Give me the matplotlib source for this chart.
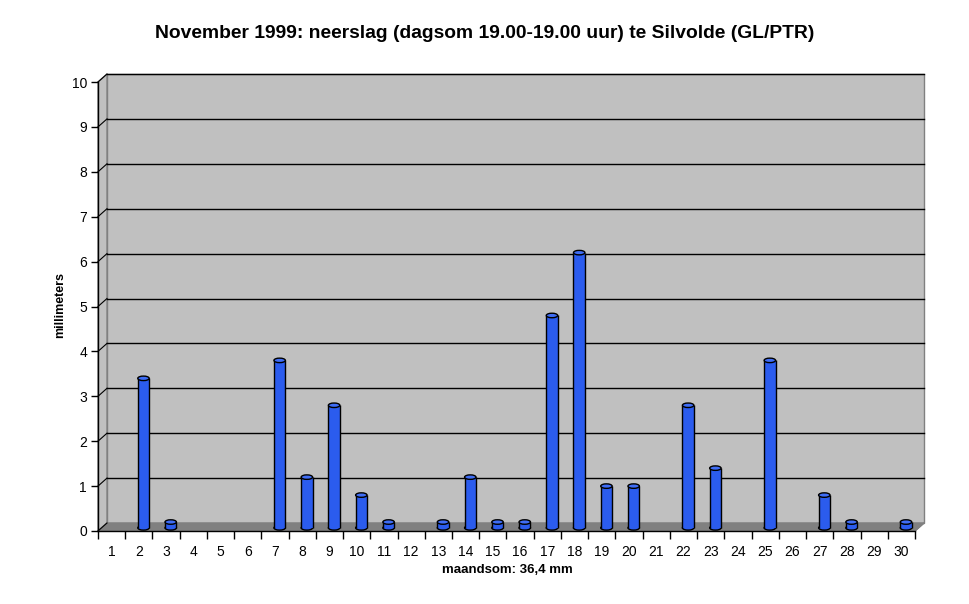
import matplotlib
matplotlib.use('Agg')
import matplotlib.pyplot as plt
import matplotlib.transforms as mtransforms
from matplotlib.patches import Rectangle, Polygon, Ellipse
import numpy as np

plt.rcParams['font.family'] = ['Liberation Sans', 'DejaVu Sans']

days = list(range(1, 31))
rain = [0, 3.4, 0.2, 0, 0, 0, 3.8, 1.2, 2.8, 0.8,
        0.2, 0, 0.2, 1.2, 0.2, 0.2, 4.8, 6.2, 1.0, 1.0,
        0, 2.8, 1.4, 0, 3.8, 0, 0.8, 0.2, 0, 0.2]
yticks = list(range(0, 11))
title = 'November 1999: neerslag (dagsom 19.00-19.00 uur) te Silvolde (GL/PTR)'
xlabel = 'maandsom: 36,4 mm'
ylabel = 'millimeters'

W, H, DPI = 970, 604, 100
fig = plt.figure(figsize=(W / DPI, H / DPI), dpi=DPI)
fig.patch.set_facecolor('white')

# front axis box in pixels
left, right, top, bottom = 98, 915, 82, 531
ax = fig.add_axes([left / W, 1 - bottom / H, (right - left) / W, (bottom - top) / H])
ax.set_xlim(0, 30)
ax.set_ylim(0, 10)
ax.patch.set_visible(False)

# depth offset for the back wall (pixels)
dx, dy = 9, 8
t_back = ax.transData + mtransforms.ScaledTranslation(dx / DPI, dy / DPI, fig.dpi_scale_trans)

# back wall
ax.add_patch(Rectangle((0, 0), 30, 10, transform=t_back, fc='#C0C0C0',
                       ec='#808080', lw=1, zorder=0, clip_on=False))
for v in yticks[1:]:
    ax.plot([0, 30], [v, v], transform=t_back, color='black', lw=1, zorder=1, clip_on=False)

# side wall and floor (display coords)
def pts(trans, xy):
    return [trans.transform(p) for p in xy]

fig.canvas.draw()
side = pts(ax.transData, [(0, 0), (0, 10)]) + pts(t_back, [(0, 10), (0, 0)])
ax.add_patch(Polygon(side, closed=True, transform=None, fc='#C0C0C0', ec='#808080',
                     lw=1, zorder=0, clip_on=False))
floor = pts(ax.transData, [(0, 0), (30, 0)]) + pts(t_back, [(30, 0), (0, 0)])
ax.add_patch(Polygon(floor, closed=True, transform=None, fc='#808080', ec='#808080',
                     lw=1, zorder=1, clip_on=False))
for v in yticks:
    a = ax.transData.transform((0, v))
    b = t_back.transform((0, v))
    ax.plot([a[0], b[0]], [a[1], b[1]], transform=None, color='black', lw=0.8,
            zorder=2, clip_on=False)
a = ax.transData.transform((30, 0))
b = t_back.transform((30, 0))
ax.plot([a[0], b[0]], [a[1], b[1]], transform=None, color='#808080', lw=1, zorder=2, clip_on=False)

# cylinders
bw = 0.42
shift = 0.17
base = 0.07
blue = '#2B5CEE'
cap_h = 0.1
for d, v in zip(days, rain):
    if v <= 0:
        continue
    xc = d - 0.5 + shift
    ax.add_patch(Ellipse((xc, base), bw, cap_h, fc=blue, ec='black', lw=1, zorder=3, clip_on=False))
    ax.bar(xc, v - base, width=bw, bottom=base, color=blue, lw=0, zorder=4, clip_on=False)
    ax.vlines([xc - bw / 2, xc + bw / 2], base, v, color='black', lw=1, zorder=5)
    ax.add_patch(Ellipse((xc, v), bw, cap_h, fc='#3F6DF5', ec='black', lw=1, zorder=6, clip_on=False))

# axes
for s in ['top', 'right']:
    ax.spines[s].set_visible(False)
for s in ['left', 'bottom']:
    ax.spines[s].set_color('black')
    ax.spines[s].set_linewidth(1)
    ax.spines[s].set_zorder(7)

ax.set_yticks(yticks)
ax.set_yticklabels([str(v) for v in yticks], fontsize=10)
ax.tick_params(axis='y', length=5, width=1, pad=3)
ax.set_xticks(np.arange(0, 31))
ax.set_xticklabels([])
ax.set_xticks(np.array(days) - 0.5, minor=True)
ax.set_xticklabels([str(d) for d in days], minor=True, fontsize=10)
ax.tick_params(axis='x', which='major', length=6, width=1)
ax.tick_params(axis='x', which='minor', length=0, pad=10)

fig.text(485 / W, 1 - 33 / H, title, ha='center', va='center', fontsize=13.9, fontweight='bold')
fig.text(60 / W, 1 - 305 / H, ylabel, ha='center', va='center', rotation=90,
         fontsize=9, fontweight='bold')
fig.text(507 / W, 1 - 570 / H, xlabel, ha='center', va='center', fontsize=9.5, fontweight='bold')

fig.savefig('out.png', dpi=DPI)
